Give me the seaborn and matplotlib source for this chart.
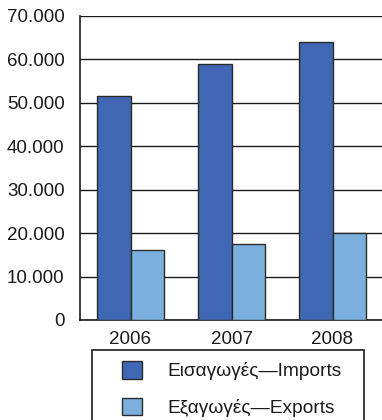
import pandas as pd
import matplotlib
matplotlib.use("Agg")
import matplotlib.pyplot as plt
from matplotlib.patches import Rectangle
from matplotlib.ticker import FuncFormatter, FixedLocator
import seaborn as sns

years = ["2006", "2007", "2008"]
imports = [51500, 59000, 64000]
exports = [16200, 17500, 20000]
series_names = ["Εισαγωγές—Imports", "Εξαγωγές—Exports"]
colors = ["#3f67b3", "#7aafde"]

df = pd.DataFrame({
    "year": years * 2,
    "value": imports + exports,
    "series": [series_names[0]] * 3 + [series_names[1]] * 3,
})

sns.set_style("white")
plt.rcParams["font.family"] = ["Liberation Sans", "DejaVu Sans"]

W, H = 382, 420
fig = plt.figure(figsize=(W / 100, H / 100), dpi=100)
ax = fig.add_axes([80 / W, 1 - 320 / H, 303 / W, 304 / H])

sns.barplot(data=df, x="year", y="value", hue="series", palette=colors, saturation=1,
            edgecolor="#2b2b2b", linewidth=1, width=0.667, ax=ax, zorder=3)

ax.set_ylim(0, 70000)
ax.set_yticks(range(0, 70001, 10000))
ax.yaxis.set_major_formatter(FuncFormatter(lambda v, p: f"{int(v):,}".replace(",", ".")))
ax.yaxis.grid(True, color="#1a1a1a", linewidth=1)
ax.set_axisbelow(True)
ax.set_xlim(-0.5, 2.5)
ax.set_xlabel("")
ax.set_ylabel("")

for s in ["top", "right"]:
    ax.spines[s].set_visible(False)
for s in ["left", "bottom"]:
    ax.spines[s].set_color("#1a1a1a")
    ax.spines[s].set_linewidth(1.2)

ax.tick_params(axis="y", length=8, width=1, color="#1a1a1a", pad=3, labelsize=13.5, labelcolor="#1a1a1a")
ax.tick_params(axis="x", which="major", length=0, pad=8, labelsize=13.5, labelcolor="#1a1a1a")
ax.xaxis.set_minor_locator(FixedLocator([-0.5, 0.5, 1.5, 2.5]))
ax.tick_params(axis="x", which="minor", length=8, width=1.2, color="#1a1a1a")

handles, labels = ax.get_legend_handles_labels()
ax.get_legend().remove()
fig.legend(handles, labels, loc="upper left", bbox_to_anchor=(122 / W, 1 - 361 / H),
           frameon=False, fontsize=13.8, handlelength=1.05, handleheight=1.05,
           handletextpad=1.3, labelspacing=0.9, borderpad=0, borderaxespad=0,
           labelcolor="#1a1a1a")
fig.patches.append(Rectangle((92 / W, -0.02), 272 / W, (1 - 350 / H) + 0.02,
                             transform=fig.transFigure, fill=False,
                             edgecolor="#1a1a1a", linewidth=1.2))

fig.savefig("out.png", dpi=100)
